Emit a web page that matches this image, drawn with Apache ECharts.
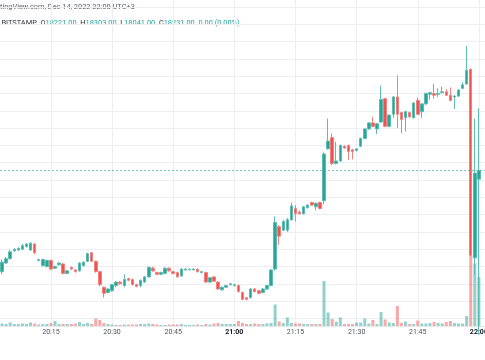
<!DOCTYPE html>
<html>
<head>
<meta charset="utf-8">
<script src="https://cdn.jsdelivr.net/npm/echarts@6/dist/echarts.min.js"></script>
<style>
html,body{margin:0;padding:0;background:#fff;}
#chart{width:485px;height:360px;}
</style>
</head>
<body>
<div id="chart"></div>
<script>
// 1-minute candles, Dec 14 2022, 20:03 .. 22:00 (last category 22:01 is empty)
var times = [
'20:03','20:04','20:05','20:06','20:07','20:08','20:09','20:10','20:11','20:12',
'20:13','20:14','20:15','20:16','20:17','20:18','20:19','20:20','20:21','20:22',
'20:23','20:24','20:25','20:26','20:27','20:28','20:29','20:30','20:31','20:32',
'20:33','20:34','20:35','20:36','20:37','20:38','20:39','20:40','20:41','20:42',
'20:43','20:44','20:45','20:46','20:47','20:48','20:49','20:50','20:51','20:52',
'20:53','20:54','20:55','20:56','20:57','20:58','20:59','21:00','21:01','21:02',
'21:03','21:04','21:05','21:06','21:07','21:08','21:09','21:10','21:11','21:12',
'21:13','21:14','21:15','21:16','21:17','21:18','21:19','21:20','21:21','21:22',
'21:23','21:24','21:25','21:26','21:27','21:28','21:29','21:30','21:31','21:32',
'21:33','21:34','21:35','21:36','21:37','21:38','21:39','21:40','21:41','21:42',
'21:43','21:44','21:45','21:46','21:47','21:48','21:49','21:50','21:51','21:52',
'21:53','21:54','21:55','21:56','21:57','21:58','21:59','22:00','22:01'
];

var opens = [
18114,18124,18129,18138,18139,18140,18143,18139,18146,18127,
18121,18120,18127,18118,18122,18123,18112,18119,18116,18115,
18121,18126,18136,18126,18114,18096,18090,18092,18098,18102,
18098,18106,18105,18099,18098,18102,18108,18118,18113,18111,
18112,18118,18114,18113,18109,18116,18116,18116,18117,18113,
18113,18102,18108,18102,18093,18096,18099,18098,18098,18090,
18084,18084,18094,18092,18090,18094,18098,18117,18166,18162,
18162,18174,18187,18183,18181,18188,18194,18189,18194,18196,
18256,18269,18239,18242,18259,18260,18255,18254,18259,18268,
18279,18286,18279,18287,18314,18282,18296,18316,18298,18292,
18298,18292,18312,18299,18308,18319,18320,18319,18321,18322,
18318,18316,18317,18326,18331,18348,18130,18221
];
var highs = [
18128,18131,18139,18141,18142,18146,18147,18148,18147,18129,
18129,18128,18128,18121,18125,18124,18116,18120,18117,18125,
18126,18136,18137,18127,18115,18097,18095,18100,18103,18103,
18111,18107,18106,18100,18105,18109,18120,18120,18114,18114,
18119,18119,18115,18114,18118,18118,18117,18118,18117,18115,
18114,18108,18109,18103,18097,18099,18101,18100,18099,18091,
18085,18095,18095,18093,18095,18099,18117,18178,18168,18174,
18176,18194,18191,18185,18190,18192,18195,18194,18195,18252,
18291,18274,18264,18261,18260,18261,18256,18257,18269,18280,
18287,18293,18286,18329,18315,18296,18317,18341,18299,18300,
18299,18310,18315,18309,18321,18322,18331,18326,18328,18325,
18327,18318,18325,18333,18375,18349,18291,18303
];
var lows = [
18111,18123,18128,18137,18138,18139,18142,18138,18134,18126,
18120,18119,18116,18117,18121,18111,18111,18116,18113,18114,
18120,18125,18125,18113,18097,18084,18089,18091,18096,18099,
18096,18103,18098,18096,18096,18101,18107,18114,18110,18110,
18111,18114,18111,18107,18108,18115,18116,18116,18113,18112,
18101,18101,18102,18093,18092,18095,18098,18097,18090,18081,
18081,18083,18090,18088,18089,18093,18097,18115,18145,18161,
18160,18173,18172,18180,18180,18187,18190,18185,18186,18192,
18255,18237,18238,18241,18256,18243,18244,18253,18258,18267,
18278,18281,18273,18286,18281,18281,18292,18280,18274,18276,
18292,18291,18295,18292,18307,18313,18314,18316,18320,18317,
18311,18302,18316,18325,18330,18132,18110,18041
];
var closes = [
18125,18129,18137,18140,18141,18144,18146,18147,18136,18128,
18128,18127,18117,18120,18124,18112,18115,18117,18114,18124,
18125,18135,18126,18114,18099,18089,18094,18099,18102,18100,
18105,18104,18099,18097,18104,18108,18119,18115,18111,18113,
18118,18115,18112,18108,18117,18117,18117,18117,18114,18114,
18102,18107,18103,18094,18096,18098,18100,18099,18091,18082,
18082,18094,18091,18089,18094,18098,18116,18171,18155,18172,
18174,18190,18181,18181,18189,18191,18191,18193,18187,18250,
18265,18239,18242,18260,18257,18253,18253,18256,18268,18279,
18286,18282,18285,18313,18282,18295,18316,18296,18290,18299,
18293,18309,18296,18308,18320,18321,18318,18320,18322,18318,
18312,18317,18324,18330,18347,18133,18228,18231
];
var volumes = [
5,4,7,4,4,5,4,7,5,3,
4,4,6,10,4,4,4,4,5,8,
4,6,4,15,12,6,4,3,2,2,
3,3,3,3,4,4,5,4,3,2,
2,3,3,3,4,2,2,2,3,2,
4,3,5,6,4,4,4,4,10,6,
4,4,5,4,4,5,6,43,9,6,
17,6,5,5,4,4,4,4,4,90,
27,14,8.6,17,4,4,4,7,7,15,
5,12,4,28,13,7,6,40,6,9,
4,4,11,5,5,6,8,6,5,8,
10,6,5,5,20,142,125,98
];
var tickLabels = ['20:15','20:30','20:45','21:00','21:15','21:30','21:45','22:00'];
var boldLabels = ['21:00','22:00'];
var lastClose = 18231;
var headerLine1 = 'tingView.com, Dec 14, 2022 22:00 UTC+3';
var symbolName = 'BITSTAMP';
var legendO = '18221.00', legendH = '18303.00', legendL = '18041.00', legendC = '18231.00';
var legendChange = '0.00 (0.00%)';

var UP = '#26a69a', DOWN = '#ef5350', GRID = '#eceef2';
var FONT = 'Roboto, "Noto Sans", sans-serif';
var HF = '7.4px ' + FONT;

var candleData = opens.map(function (o, i) { return [o, closes[i], lows[i], highs[i]]; });
var volData = volumes.map(function (v, i) {
  return { value: v, itemStyle: { color: closes[i] >= opens[i] ? 'rgba(38,166,154,0.5)' : 'rgba(239,83,80,0.5)' } };
});
function isTick(idx, val) { return tickLabels.indexOf(val) >= 0; }

var chart = echarts.init(document.getElementById('chart'), null, { renderer: 'canvas' });
chart.setOption({
  animation: false,
  backgroundColor: '#ffffff',
  grid: [
    { left: 0, right: 0, top: 7, bottom: 24.3, outerBoundsMode: 'none' },
    { left: 0, right: 0, top: 7, bottom: 34, outerBoundsMode: 'none' },
    { left: 0, right: 0, top: 166, bottom: 34, outerBoundsMode: 'none' }
  ],
  xAxis: [
    { gridIndex: 0, type: 'value', min: 0, max: 1, show: false },
    { gridIndex: 1, type: 'category', data: times, boundaryGap: true,
      axisLine: { show: true, lineStyle: { color: '#e6e8ec', width: 1 } },
      axisTick: { show: true, alignWithLabel: true, inside: true, length: 330, interval: isTick, lineStyle: { color: GRID, width: 1 } },
      axisLabel: { show: true, interval: isTick, margin: 3, fontSize: 7, color: '#50535e', fontFamily: FONT,
        formatter: function (v) { return boldLabels.indexOf(v) >= 0 ? '{b|' + v + '}' : v; },
        rich: { b: { fontWeight: 'bold', fontSize: 7, color: '#131722', fontFamily: FONT } } },
      splitLine: { show: false } },
    { gridIndex: 2, type: 'category', data: times, boundaryGap: true, show: false }
  ],
  yAxis: [
    { gridIndex: 0, type: 'value', min: 18040, max: 18420, interval: 20,
      axisLine: { show: false }, axisTick: { show: false }, axisLabel: { show: false },
      splitLine: { show: true, showMinLine: false, lineStyle: { color: GRID, width: 1 } } },
    { gridIndex: 1, type: 'value', min: 18051.21, max: 18420, show: false, splitLine: { show: false } },
    { gridIndex: 2, type: 'value', min: 0, max: 320, show: false, splitLine: { show: false } }
  ],
  graphic: [
    { type: 'text', left: 0, top: 3.5, style: { text: headerLine1, font: HF, fill: '#5d606b' } },
    { type: 'text', left: 1.5, top: 19.5, style: {
        text: '{k|' + symbolName + '}  {k|O}{v|' + legendO + '}  {k|H}{v|' + legendH + '}  {k|L}{v|' + legendL + '}  {k|C}{v|' + legendC + '}  {v|' + legendChange + '}',
        font: HF,
        rich: { k: { fill: '#2f323a', font: HF }, v: { fill: UP, font: HF } } } }
  ],
  series: [
    { type: 'bar', xAxisIndex: 2, yAxisIndex: 2, data: volData, barWidth: 3, z: 1 },
    { type: 'candlestick', xAxisIndex: 1, yAxisIndex: 1, data: candleData, barWidth: 3, z: 3, clip: true,
      itemStyle: { color: UP, color0: DOWN, borderColor: '#5cbcb2', borderColor0: '#f2827f', borderWidth: 1 },
      markLine: { silent: true, symbol: ['none', 'none'], label: { show: false },
        lineStyle: { color: UP, type: [2, 2], width: 1, opacity: 0.6 },
        data: [{ yAxis: lastClose }] } }
  ]
});
</script>
</body>
</html>
